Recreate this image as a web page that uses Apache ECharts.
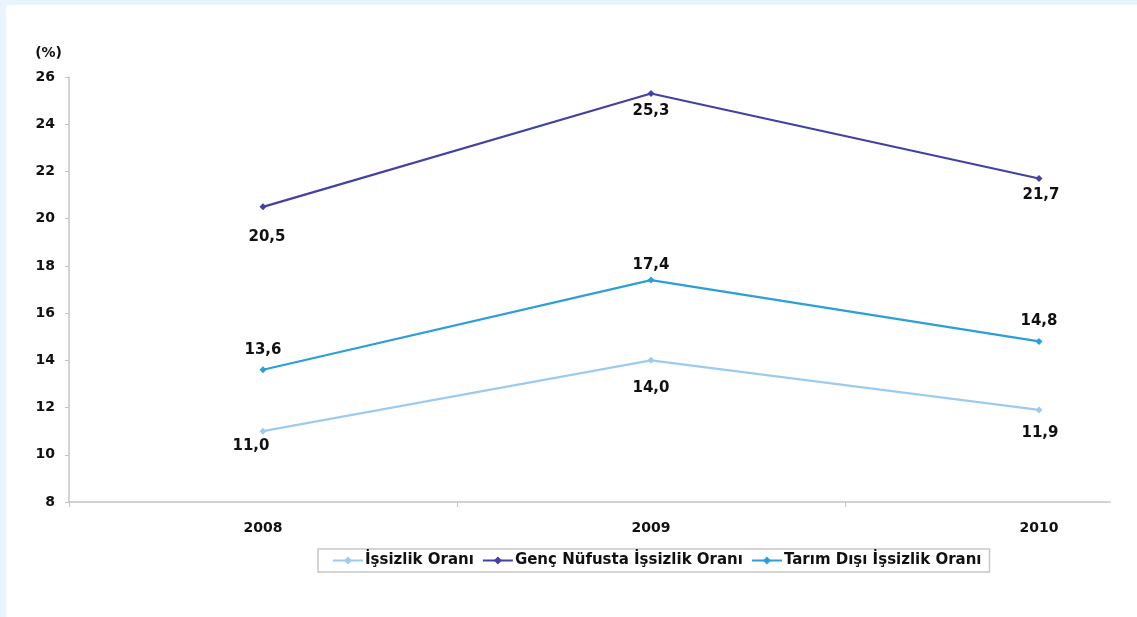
<!DOCTYPE html>
<html><head><meta charset="utf-8">
<script src="https://cdn.jsdelivr.net/npm/echarts@6/dist/echarts.min.js"></script>
<style>
html,body{margin:0;padding:0;background:#eaf4fc;}
#wrap{position:absolute;left:6px;top:5px;width:1131px;height:612px;background:#fff;}
#c{width:1137px;height:617px;position:absolute;left:0;top:0;}
</style></head>
<body><div id="wrap"></div><div id="c"></div>
<script>
const years = [2008, 2009, 2010];
const yTicks = [8, 10, 12, 14, 16, 18, 20, 22, 24, 26];
const seriesNames = ['İşsizlik Oranı', 'Genç Nüfusta İşsizlik Oranı', 'Tarım Dışı İşsizlik Oranı'];
const issizlik = [11.0, 14.0, 11.9];
const genc = [20.5, 25.3, 21.7];
const tarimDisi = [13.6, 17.4, 14.8];

const colors = ['#9dcbef', '#4141a6', '#2c9fd8'];
const values = [issizlik, genc, tarimDisi];
// label offsets (px) from each point, matching the reference placement
const labelOffsets = [
  [[-12, 15], [0, 28], [1, 23]],
  [[4, 30], [0, 18], [2, 17]],
  [[0, -20], [0, -15], [0, -20]]
];

const chart = echarts.init(document.getElementById('c'), null, {renderer: 'canvas'});
const font = 'DejaVu Sans, sans-serif';
chart.setOption({
  backgroundColor: 'transparent',
  animation: false,
  grid: {left: 69, top: 77, width: 1041, height: 425, containLabel: false},
  legend: {
    data: seriesNames,
    left: 318, top: 549,
    itemWidth: 30, itemHeight: 10, itemGap: 8,
    padding: [4, 8, 4, 14],
    borderColor: '#c8c8c8', borderWidth: 1.5,
    textStyle: {fontFamily: font, fontWeight: 'bold', fontSize: 15, color: '#111', padding: [0, 0, 0, -3]}
  },
  xAxis: {
    type: 'value',
    min: 2007.5, max: 2007.5 + 1041 / 388,
    axisLine: {show: true, lineStyle: {color: '#c4c4c4', width: 1.5}},
    axisTick: {show: true, customValues: [2007.5, 2008.5, 2009.5], length: 5, lineStyle: {color: '#c4c4c4'}},
    axisLabel: {customValues: years, formatter: v => String(Math.round(v)), margin: 19,
      fontFamily: font, fontWeight: 'bold', fontSize: 14, color: '#111'},
    splitLine: {show: false}
  },
  yAxis: {
    type: 'value', min: yTicks[0], max: yTicks[yTicks.length - 1], interval: 2,
    name: '(%)', nameLocation: 'end', nameGap: 17,
    nameTextStyle: {fontFamily: font, fontWeight: 'bold', fontSize: 14, color: '#111', align: 'right', padding: [0, 7, 0, 0]},
    axisLine: {show: true, lineStyle: {color: '#c4c4c4', width: 1.5}},
    axisTick: {show: true, length: 4, lineStyle: {color: '#c4c4c4'}},
    axisLabel: {margin: 14, fontFamily: font, fontWeight: 'bold', fontSize: 14, color: '#111'},
    splitLine: {show: false}
  },
  series: seriesNames.map((n, i) => ({
    name: n, type: 'line',
    data: years.map((y, j) => ({
      value: [y, values[i][j]],
      label: {offset: labelOffsets[i][j]}
    })),
    symbol: 'diamond', symbolSize: 7,
    lineStyle: {color: colors[i], width: 2.2},
    itemStyle: {color: colors[i]},
    label: {show: true, position: 'inside',
      formatter: p => p.value[1].toFixed(1).replace('.', ','),
      fontFamily: font, fontWeight: 'bold', fontSize: 15, color: '#111'}
  }))
});
</script></body></html>
